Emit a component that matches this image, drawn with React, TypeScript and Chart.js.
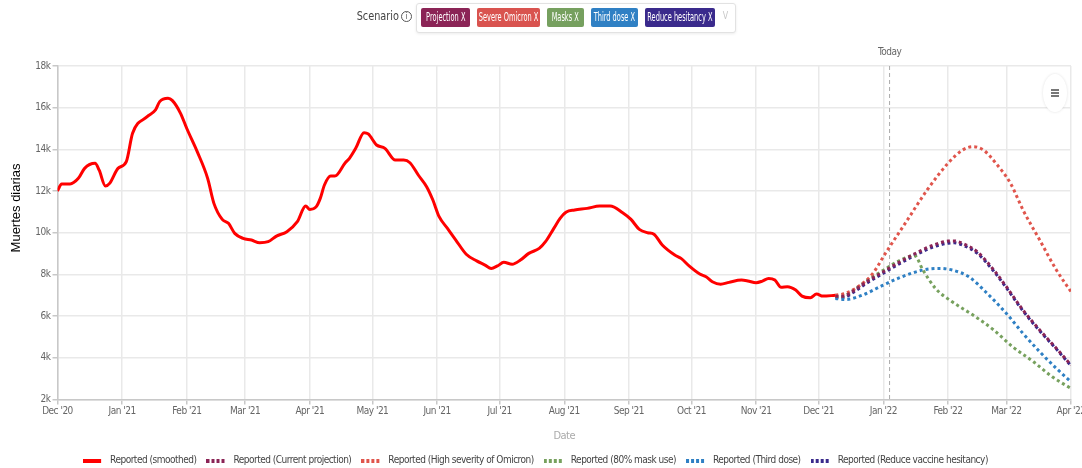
import React, { useEffect, useRef } from "react";
import { Chart, registerables } from "chart.js";

Chart.register(...registerables);

const NARROW = "'Liberation Sans Narrow', 'Arial Narrow', 'DejaVu Sans Condensed', sans-serif";
const TIGHT = "-0.5px";

// x values are days since 1 Dec 2020
const monthTickDays = [0, 31, 62, 90, 121, 151, 182, 212, 243, 274, 304, 335, 365, 396, 427, 455, 486];
const monthTickLabels = [
  "Dec '20", "Jan '21", "Feb '21", "Mar '21", "Apr '21", "May '21", "Jun '21", "Jul '21",
  "Aug '21", "Sep '21", "Oct '21", "Nov '21", "Dec '21", "Jan '22", "Feb '22", "Mar '22", "Apr '22",
];
const yTickValues = [2000, 4000, 6000, 8000, 10000, 12000, 14000, 16000, 18000];
const todayDay = 399;

const reportedDays = [
  0, 2, 6, 10, 13, 18, 20, 23, 25, 29, 33, 36, 43, 47, 49, 53, 55, 59, 62, 67, 72, 75, 79, 82, 85, 89,
  93, 97, 101, 105, 110, 115, 119, 121, 124, 126, 128, 131, 133, 138, 140, 143, 147, 149, 153, 157,
  162, 166, 169, 173, 177, 180, 183, 187, 191, 196, 201, 205, 208, 211, 214, 218, 222, 226, 231, 234,
  238, 241, 244, 248, 254, 260, 265, 271, 275, 279, 283, 286, 290, 296, 299, 303, 308, 311, 314, 318,
  322, 328, 331, 335, 338, 341, 344, 347, 350, 354, 357, 361, 364, 367, 373,
];
const reportedValues = [
  12000, 12340, 12340, 12610, 13090, 13330, 13000, 12240, 12370, 13090, 13410, 14770, 15570, 15890,
  16290, 16450, 16350, 15730, 15000, 13890, 12610, 11410, 10640, 10450, 9970, 9730, 9650, 9520, 9570,
  9840, 10050, 10530, 11280, 11120, 11240, 11650, 12290, 12720, 12720, 13360, 13570, 14050, 14800,
  14740, 14210, 14050, 13490, 13490, 13360, 12770, 12210, 11570, 10770, 10210, 9650, 8970, 8650, 8450,
  8290, 8410, 8580, 8490, 8690, 9010, 9250, 9570, 10210, 10690, 11000, 11090, 11170, 11280, 11280,
  10960, 10640, 10160, 10000, 9930, 9410, 8930, 8770, 8400, 8020, 7890, 7650, 7530, 7620, 7730, 7690,
  7600, 7680, 7810, 7730, 7380, 7410, 7250, 6960, 6880, 7060, 6960, 7000,
];

const projectionDays = [373, 377, 381, 388, 396, 404, 412, 420, 427, 430, 434, 441, 449, 455, 463, 471, 479, 486];
const projectionValues = [6950, 6950, 7170, 7650, 8130, 8610, 9040, 9410, 9600, 9610, 9490, 9090, 8210, 7410, 6290, 5330, 4450, 3650];

const severeDays = [373, 378, 385, 391, 397, 407, 417, 427, 434, 439, 444, 450, 457, 463, 471, 479, 486];
const severeValues = [7000, 7100, 7490, 8050, 9010, 10530, 12050, 13330, 13970, 14130, 13970, 13330, 12370, 11090, 9650, 8210, 7170];

const masksDays = [373, 377, 381, 388, 396, 404, 411, 415, 421, 429, 439, 449, 458, 468, 477, 486];
const masksValues = [6950, 6970, 7200, 7700, 8200, 8680, 8900, 8210, 7330, 6690, 6050, 5330, 4530, 3810, 3090, 2530];

const thirdDoseDays = [373, 378, 386, 396, 405, 415, 423, 429, 437, 445, 455, 463, 471, 479, 486];
const thirdDoseValues = [6850, 6800, 7010, 7490, 7890, 8210, 8290, 8210, 7890, 7170, 6130, 5170, 4290, 3490, 2850];

const hesitancyDays = [373, 377, 381, 388, 396, 404, 412, 420, 427, 430, 434, 441, 449, 455, 463, 471, 479, 486];
const hesitancyValues = [6900, 6900, 7100, 7580, 8060, 8530, 8960, 9320, 9500, 9520, 9410, 9020, 8150, 7360, 6250, 5290, 4420, 3620];

const seriesLabels = [
  "Reported (smoothed)",
  "Reported (Current projection)",
  "Reported (High severity of Omicron)",
  "Reported (80% mask use)",
  "Reported (Third dose)",
  "Reported (Reduce vaccine hesitancy)",
];
const seriesColors = ["#ff0000", "#8b2456", "#e0554c", "#77a15e", "#2f80c4", "#3a2a8c"];

const chips = [
  { label: "Projection", color: "#8b2456", width: 49 },
  { label: "Severe Omicron", color: "#d9534f", width: 63 },
  { label: "Masks", color: "#76a05f", width: 37 },
  { label: "Third dose", color: "#2f80c4", width: 47 },
  { label: "Reduce hesitancy", color: "#3a2a8c", width: 70 },
];

const pts = (xs: number[], ys: number[]) => xs.map((x, i) => ({ x, y: ys[i] }));

function legendSample(color: string, dashed: boolean) {
  const c = document.createElement("canvas");
  c.width = 22;
  c.height = 4;
  const g = c.getContext("2d")!;
  g.strokeStyle = color;
  g.lineWidth = 4;
  g.setLineDash(dashed ? [3, 2] : []);
  g.beginPath();
  g.moveTo(0, 2);
  g.lineTo(18, 2);
  g.stroke();
  return c;
}

const setTight = (chart: any) => {
  try {
    chart.ctx.letterSpacing = TIGHT;
  } catch (e) {}
};

const decorPlugin = {
  id: "decor",
  beforeInit: setTight,
  beforeUpdate: setTight,
  beforeDraw: setTight,
  beforeDatasetsDraw(chart: any) {
    const { ctx, chartArea, scales } = chart;
    const px = scales.x.getPixelForValue(todayDay);
    ctx.save();
    ctx.strokeStyle = "#aaaaaa";
    ctx.lineWidth = 1;
    ctx.setLineDash([4, 3]);
    ctx.beginPath();
    ctx.moveTo(px, chartArea.top);
    ctx.lineTo(px, chartArea.bottom);
    ctx.stroke();
    ctx.setLineDash([]);
    ctx.fillStyle = "#666";
    ctx.font = `10px ${NARROW}`;
    ctx.textAlign = "center";
    ctx.textBaseline = "middle";
    ctx.fillText("Today", px, 52);
    ctx.restore();
  },
  afterDraw(chart: any) {
    const { ctx } = chart;
    ctx.save();
    try {
      ctx.letterSpacing = "0px";
    } catch (e) {}
    ctx.translate(16, 208);
    ctx.rotate(-Math.PI / 2);
    ctx.fillStyle = "#000";
    ctx.font = "13px 'Liberation Sans', Arial, sans-serif";
    ctx.textAlign = "center";
    ctx.textBaseline = "middle";
    ctx.fillText("Muertes diarias", 0, 0);
    ctx.restore();
  },
};

export default function App() {
  const ref = useRef<HTMLCanvasElement>(null);

  useEffect(() => {
    if (!ref.current) return;
    Chart.defaults.font.family = NARROW;
    const samples = seriesColors.map((c, i) => legendSample(c, i !== 0));
    const dotted = (i: number, data: any) => ({
      label: seriesLabels[i],
      data,
      borderColor: seriesColors[i],
      backgroundColor: seriesColors[i],
      borderWidth: 3,
      borderDash: [3, 3],
      pointRadius: 0,
      cubicInterpolationMode: "monotone",
      fill: false,
    });
    const chart = new Chart(ref.current, {
      type: "line",
      data: {
        datasets: [
          {
            label: seriesLabels[0],
            data: pts(reportedDays, reportedValues),
            borderColor: seriesColors[0],
            backgroundColor: seriesColors[0],
            borderWidth: 3,
            pointRadius: 0,
            cubicInterpolationMode: "monotone",
            fill: false,
          },
          dotted(1, pts(projectionDays, projectionValues)),
          dotted(2, pts(severeDays, severeValues)),
          dotted(3, pts(masksDays, masksValues)),
          dotted(4, pts(thirdDoseDays, thirdDoseValues)),
          dotted(5, pts(hesitancyDays, hesitancyValues)),
        ] as any,
      },
      options: {
        animation: false,
        responsive: false,
        maintainAspectRatio: false,
        layout: { padding: { top: 66, right: 11, left: 0, bottom: 0 } },
        scales: {
          x: {
            type: "linear",
            min: 0,
            max: 486,
            afterBuildTicks: (s: any) => {
              s.ticks = monthTickDays.map((v) => ({ value: v }));
            },
            afterFit: (s: any) => {
              s.height = 46;
              s.paddingLeft = 0;
              s.paddingRight = 0;
            },
            ticks: {
              autoSkip: false,
              maxRotation: 0,
              color: "#666",
              font: { size: 10 },
              padding: 1,
              callback: (v: any) => {
                const i = monthTickDays.indexOf(Number(v));
                return i >= 0 ? monthTickLabels[i] : "";
              },
            },
            grid: { color: "#e9e9e9", lineWidth: 1.5, tickLength: 5, tickColor: "#c8c8c8" },
            border: { color: "#c8c8c8", width: 1.5 },
            title: { display: true, text: "Date", color: "#aaa", font: { size: 11 }, padding: { top: 4, bottom: 3 } },
          },
          y: {
            min: 2000,
            max: 18000,
            afterBuildTicks: (s: any) => {
              s.ticks = yTickValues.map((v) => ({ value: v }));
            },
            afterFit: (s: any) => {
              s.width = 57.5;
            },
            ticks: {
              color: "#666",
              font: { size: 10 },
              padding: 2,
              callback: (v: any) => `${Number(v) / 1000}k`,
            },
            grid: { color: "#e9e9e9", lineWidth: 1.5, tickLength: 5, tickColor: "#c8c8c8" },
            border: { color: "#c8c8c8", width: 1.5 },
          },
        },
        plugins: {
          legend: {
            position: "bottom",
            maxHeight: 22.5,
            labels: {
              usePointStyle: true,
              pointStyleWidth: 22,
              padding: 10,
              color: "#444",
              font: { size: 10 },
              generateLabels: () =>
                seriesLabels.map((text, i) => ({
                  text,
                  pointStyle: samples[i],
                  strokeStyle: seriesColors[i],
                  fillStyle: seriesColors[i],
                  lineWidth: 0,
                  hidden: false,
                  datasetIndex: i,
                  fontColor: "#444",
                })),
            },
          },
          tooltip: { enabled: false },
        },
      } as any,
      plugins: [decorPlugin],
    });
    return () => chart.destroy();
  }, []);

  const squeeze = (scale: number): React.CSSProperties => ({
    display: "inline-block",
    transform: `scaleX(${scale})`,
    transformOrigin: "center",
    whiteSpace: "nowrap",
  });

  return (
    <div style={{ position: "absolute", left: 0, top: 0, width: 1082, height: 468, background: "#fff", fontFamily: NARROW }}>
      <canvas ref={ref} width={1082} height={468} style={{ position: "absolute", left: 0, top: 0, width: 1082, height: 468 }} />
      <div style={{ position: "absolute", left: 352, top: 9, fontSize: 12, color: "#444", display: "flex", alignItems: "center" }}>
        <span style={{ ...squeeze(0.9), transformOrigin: "right" }}>Scenario</span>
        <span
          style={{
            marginLeft: 2,
            width: 9,
            height: 9,
            borderRadius: "50%",
            border: "1px solid #555",
            fontSize: 8,
            lineHeight: "9px",
            textAlign: "center",
            color: "#555",
            display: "inline-block",
          }}
        >
          i
        </span>
      </div>
      <div
        style={{
          position: "absolute",
          left: 416,
          top: 3,
          width: 318,
          height: 28,
          border: "1px solid #e2e2e2",
          borderRadius: 3,
          boxShadow: "0 1px 3px rgba(0,0,0,0.08)",
          background: "#fff",
        }}
      >
        {chips.map((c, i) => {
          const left = 4 + chips.slice(0, i).reduce((a, b) => a + b.width + 7, 0);
          return (
            <div
              key={c.label}
              style={{
                position: "absolute",
                left,
                top: 4,
                width: c.width,
                height: 19,
                background: c.color,
                borderRadius: 2,
                color: "#fff",
                fontSize: 11.5,
                lineHeight: "19px",
                textAlign: "center",
                whiteSpace: "nowrap",
                display: "flex",
                justifyContent: "center",
              }}
            >
              <span style={squeeze(0.64)}>{c.label} X</span>
            </div>
          );
        })}
        <div style={{ position: "absolute", left: 305, top: 5, fontSize: 11, color: "#c8c8c8" }}>
          <span style={squeeze(0.8)}>V</span>
        </div>
      </div>
      <div
        style={{
          position: "absolute",
          left: 1043,
          top: 74,
          width: 24,
          height: 38,
          borderRadius: "50%",
          background: "#fff",
          boxShadow: "0 0 3px rgba(0,0,0,0.12)",
        }}
      >
        {[15, 18, 21].map((t) => (
          <div key={t} style={{ position: "absolute", left: 8, top: t, width: 8, height: 1.5, background: "#777" }} />
        ))}
      </div>
    </div>
  );
}
